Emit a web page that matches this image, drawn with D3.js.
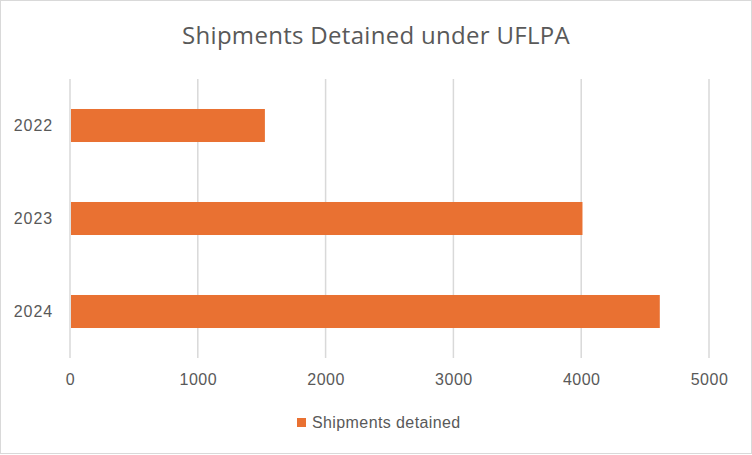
<!DOCTYPE html>
<html>
<head>
<meta charset="utf-8">
<script src="https://cdn.jsdelivr.net/npm/d3@7"></script>
<style>
	html, body { margin: 0; padding: 0; background: #fff; }
	svg { display: block; }
	text { font-family: "Liberation Sans", Arial, sans-serif; fill: #595959; }
</style>
</head>
<body>
<div class="canvas"></div>
<script>
const years = ['2022', '2023', '2024'];
const detained = [1525, 4010, 4615];
const xTicks = [0, 1000, 2000, 3000, 4000, 5000];
const seriesName = 'Shipments detained';
const title = 'Shipments Detained under UFLPA';

const dims = {width: 752, height: 455};
const plot = {left: 70, right: 709, top: 79, bottom: 358};

const svg = d3.select('.canvas')
	.append('svg')
	.attr('width', dims.width)
	.attr('height', dims.height);

// chart frame
svg.append('rect')
	.attr('x', 0.5)
	.attr('y', 0.5)
	.attr('width', dims.width - 1)
	.attr('height', dims.height - 2)
	.attr('fill', '#fff')
	.attr('stroke', '#d9d9d9');

// scales
const x = d3.scaleLinear()
	.domain([0, 5000])
	.range([plot.left, plot.right]);

const y = d3.scaleBand()
	.domain(years)
	.range([plot.top, plot.bottom])
	.paddingInner(0.645)
	.paddingOuter(0.3225);

// gridlines
svg.append('g')
	.selectAll('line')
	.data(xTicks)
	.enter()
	.append('line')
		.attr('x1', d => x(d))
		.attr('x2', d => x(d))
		.attr('y1', plot.top)
		.attr('y2', plot.bottom)
		.attr('stroke', '#d9d9d9')
		.attr('stroke-width', 1.5);

// bars
const data = years.map((yr, i) => ({year: yr, value: detained[i]}));

svg.append('g')
	.selectAll('rect')
	.data(data)
	.enter()
	.append('rect')
		.attr('x', x(0) + 1)
		.attr('y', d => y(d.year))
		.attr('width', d => x(d.value) - x(0) - 1)
		.attr('height', y.bandwidth())
		.attr('fill', '#e97132');

// x axis labels
const xAxis = svg.append('g')
	.attr('transform', `translate(0, ${plot.bottom})`)
	.call(d3.axisBottom(x).tickValues(xTicks).tickSize(0).tickPadding(16).tickFormat(d3.format('d')));
xAxis.select('.domain').remove();
xAxis.selectAll('text')
	.attr('font-size', 16)
	.attr('fill', '#595959')
	.attr('letter-spacing', 0.5)
	.style('font-family', '"Liberation Sans", Arial, sans-serif');

// y axis labels
const yAxis = svg.append('g')
	.attr('transform', `translate(${plot.left}, 0)`)
	.call(d3.axisLeft(y).tickSize(0).tickPadding(17));
yAxis.select('.domain').remove();
yAxis.selectAll('text')
	.attr('font-size', 16)
	.attr('fill', '#595959')
	.attr('letter-spacing', 0.9)
	.style('font-family', '"Liberation Sans", Arial, sans-serif');

// title
svg.append('text')
	.attr('x', dims.width / 2)
	.attr('y', 44)
	.attr('text-anchor', 'middle')
	.attr('font-size', 24)
	.attr('letter-spacing', 0.3)
	.style('font-family', '"Open Sans", "Noto Sans", sans-serif')
	.text(title);

// legend
const legend = svg.append('g')
	.attr('transform', 'translate(297, 418)');

legend.append('rect')
	.attr('width', 9)
	.attr('height', 9)
	.attr('fill', '#e97132');

legend.append('text')
	.attr('x', 15)
	.attr('y', 10)
	.attr('font-size', 16)
	.attr('letter-spacing', 0.4)
	.text(seriesName);
</script>
</body>
</html>
